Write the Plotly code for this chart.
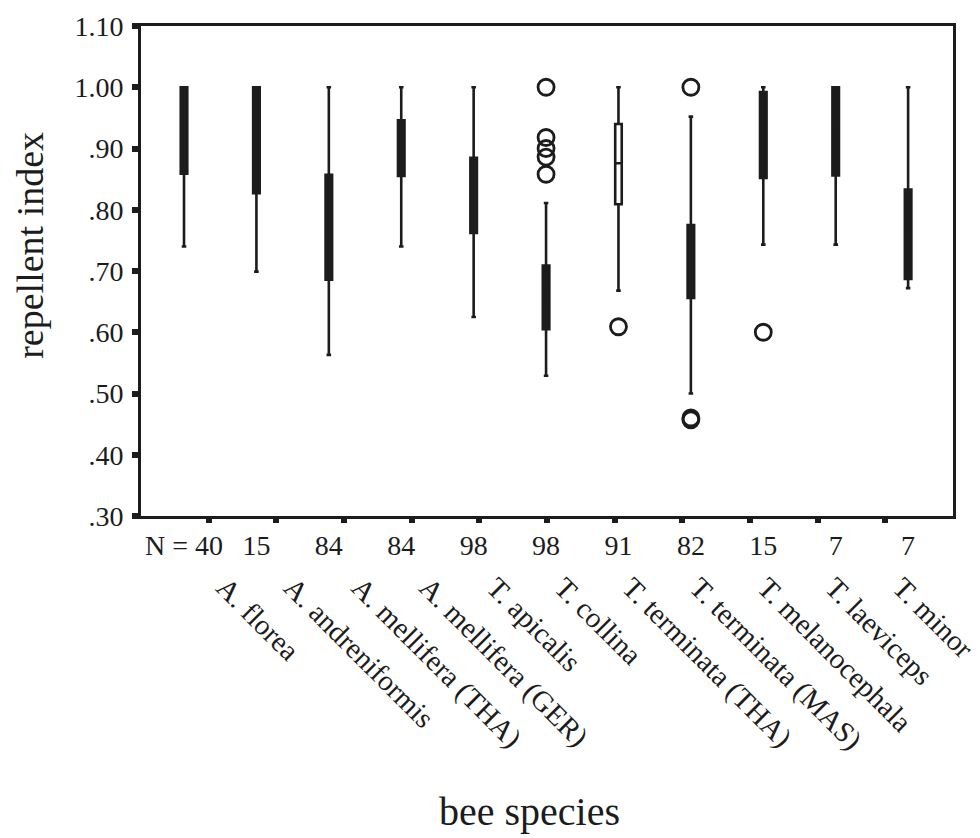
import plotly.graph_objects as go

species = ["A. florea", "A. andreniformis", "A. mellifera (THA)", "A. mellifera (GER)",
           "T. apicalis", "T. collina", "T. terminata (THA)", "T. terminata (MAS)",
           "T. melanocephala", "T. laeviceps", "T. minor"]
n_labels = ["N = 40", "15", "84", "84", "98", "98", "91", "82", "15", "7", "7"]

lower_fence = [0.740, 0.699, 0.563, 0.740, 0.625, 0.529, 0.668, 0.500, 0.743, 0.743, 0.672]
q1 = [0.859, 0.827, 0.686, 0.855, 0.762, 0.605, 0.809, 0.656, 0.852, 0.856, 0.687]
median = [0.930, 0.930, 0.760, 0.900, 0.830, 0.660, 0.876, 0.710, 0.930, 0.940, 0.760]
q3 = [1.000, 1.000, 0.857, 0.946, 0.885, 0.709, 0.940, 0.775, 0.992, 1.000, 0.833]
upper_fence = [1.000, 1.000, 1.000, 1.000, 1.000, 0.811, 1.000, 0.952, 1.000, 1.000, 1.000]
hollow = [False, False, False, False, False, False, True, False, False, False, False]

outlier_idx = [5, 5, 5, 5, 5, 6, 7, 7, 7, 8]
outlier_val = [1.000, 0.918, 0.900, 0.886, 0.858, 0.609, 1.000, 0.460, 0.457, 0.600]

y_ticks = [0.3, 0.4, 0.5, 0.6, 0.7, 0.8, 0.9, 1.0, 1.1]
y_ticktext = [".30", ".40", ".50", ".60", ".70", ".80", ".90", "1.00", "1.10"]

INK = "#1c1c1c"
FONT = "Liberation Serif"

fig = go.Figure()
for i in range(len(species)):
    fig.add_trace(go.Box(
        x=[i], q1=[q1[i]], median=[median[i]], q3=[q3[i]],
        lowerfence=[lower_fence[i]], upperfence=[upper_fence[i]],
        width=0.09, whiskerwidth=0.7,
        fillcolor="white" if hollow[i] else INK,
        line=dict(color=INK, width=2.6),
        boxpoints=False, showlegend=False, xaxis="x", yaxis="y",
    ))

fig.add_trace(go.Scatter(
    x=outlier_idx, y=outlier_val, mode="markers",
    marker=dict(symbol="circle-open", size=16, color=INK, line=dict(width=2.8, color=INK)),
    showlegend=False, xaxis="x", yaxis="y",
))

# invisible trace to activate the overlay axis carrying species labels
fig.add_trace(go.Scatter(x=[0], y=[None], mode="markers", showlegend=False,
                         xaxis="x2", yaxis="y", hoverinfo="skip"))

fig.update_layout(
    width=980, height=838,
    margin=dict(l=141, r=27, t=26, b=322, autoexpand=False),
    paper_bgcolor="white", plot_bgcolor="white",
    font=dict(family=FONT, size=28, color=INK),
    xaxis=dict(
        range=[-0.594, 10.62], tickmode="array",
        tickvals=list(range(len(n_labels))), ticktext=n_labels,
        ticks="", showgrid=False, zeroline=False, automargin=False,
        showline=True, linecolor=INK, linewidth=2.8, mirror=True,
        tickfont=dict(family=FONT, size=28, color=INK),
        ticklabelstandoff=2,
    ),
    xaxis2=dict(
        overlaying="x", anchor="y", side="bottom",
        range=[0, 12], tickmode="array",
        tickvals=list(range(1, len(species) + 1)), ticktext=species,
        ticks="outside", ticklen=6, tickwidth=6, tickcolor=INK,
        tickangle=45, showgrid=False, zeroline=False, showline=False, automargin=False,
        tickfont=dict(family=FONT, size=29, color=INK),
        ticklabelstandoff=36, ticklabelshift=16, ticklabeloverflow="allow",
    ),
    yaxis=dict(
        range=[0.3, 1.1], tickmode="array", tickvals=y_ticks, ticktext=y_ticktext,
        ticks="outside", ticklen=6, tickwidth=6, tickcolor=INK,
        showgrid=False, zeroline=False, automargin=False,
        showline=True, linecolor=INK, linewidth=2.8, mirror=True,
        tickfont=dict(family=FONT, size=28, color=INK),
        ticklabelstandoff=3,
    ),
    annotations=[
        dict(text="repellent index", xref="paper", yref="paper", x=-0.137, y=0.553,
             xanchor="center", yanchor="middle", textangle=-90, showarrow=False,
             font=dict(family=FONT, size=38, color=INK)),
        dict(text="bee species", xref="paper", yref="paper", x=0.478, y=-0.604,
             xanchor="center", yanchor="middle", showarrow=False,
             font=dict(family=FONT, size=40, color=INK)),
    ],
)

fig.write_html("out.html")
